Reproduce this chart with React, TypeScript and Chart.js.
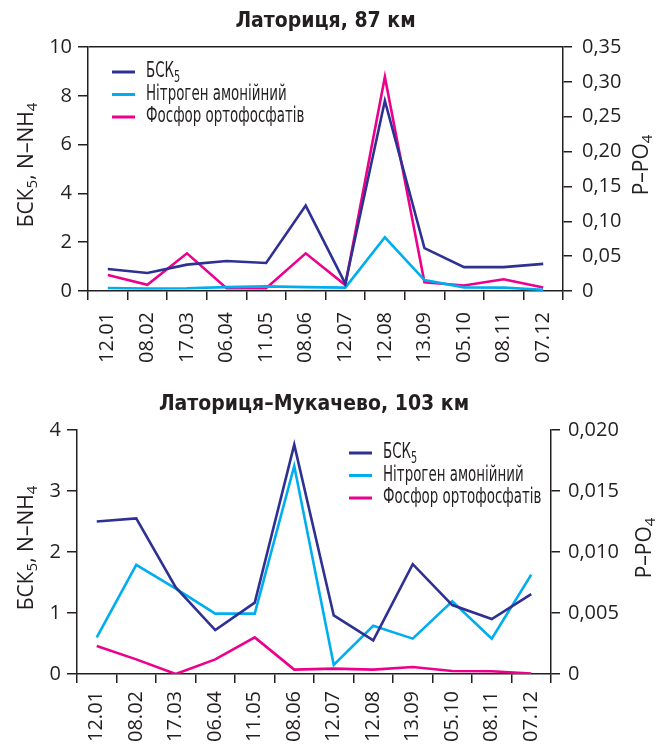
import React, { useEffect, useRef } from 'react';
import { Chart, registerables } from 'chart.js';

Chart.register(...registerables);

// ---------- DATA ----------
const categories = ['12.01', '08.02', '17.03', '06.04', '11.05', '08.06', '12.07', '12.08', '13.09', '05.10', '08.11', '07.12'];

const seriesNames = ['БСК₅', 'Нітроген амонійний', 'Фосфор ортофосфатів'];

// Латориця, 87 км
const bsk87 = [0.9, 0.74, 1.08, 1.23, 1.15, 3.5, 0.3, 7.8, 1.76, 0.98, 0.98, 1.11];
const nh87 = [0.12, 0.1, 0.11, 0.16, 0.19, 0.16, 0.14, 2.2, 0.45, 0.15, 0.14, 0.05];
const po87 = [0.023, 0.009, 0.054, 0.004, 0.004, 0.054, 0.0085, 0.307, 0.0125, 0.0078, 0.0168, 0.005];

// Латориця–Мукачево, 103 км
const bsk103 = [2.5, 2.55, 1.42, 0.72, 1.17, 3.76, 0.96, 0.55, 1.8, 1.13, 0.9, 1.31];
const nh103 = [0.6, 1.79, 1.4, 0.99, 0.99, 3.41, 0.15, 0.79, 0.58, 1.19, 0.58, 1.63];
const po103 = [0.0023, 0.0012, 0, 0.0012, 0.003, 0.00036, 0.00044, 0.00036, 0.00057, 0.00025, 0.00022, 0.00003];

const titles = ['Латориця, 87 км', 'Латориця–Мукачево, 103 км'];

// ---------- STYLE ----------
const COLORS = ['#2e3192', '#00aeef', '#ec008c'];
const INK = '#231f20';
const TICK_FONT = '"Open Sans", "Noto Sans", sans-serif';
const COND_FONT = '"Liberation Sans Narrow", "DejaVu Sans Condensed", Roboto, sans-serif';

type Part = { t: string; sub?: boolean };
const leftTitleParts: Part[] = [{ t: 'БСК' }, { t: '5', sub: true }, { t: ', N–NH' }, { t: '4', sub: true }];
const rightTitleParts: Part[] = [{ t: 'P–PO' }, { t: '4', sub: true }];
const legendParts: Part[][] = [[{ t: 'БСК' }, { t: '5', sub: true }], [{ t: seriesNames[1] }], [{ t: seriesNames[2] }]];

function measureParts(ctx: CanvasRenderingContext2D, parts: Part[], size: number, family: string, cond: number) {
  let w = 0;
  for (const p of parts) {
    ctx.font = `${p.sub ? size * 0.72 : size}px ${family}`;
    w += ctx.measureText(p.t).width * cond;
  }
  return w;
}

function drawParts(ctx: CanvasRenderingContext2D, parts: Part[], x: number, y: number, size: number, family: string, cond = 1) {
  let cx = x;
  for (const p of parts) {
    const s = p.sub ? size * 0.72 : size;
    ctx.font = `${s}px ${family}`;
    ctx.save();
    ctx.translate(cx, y + (p.sub ? size * 0.28 : 0));
    ctx.scale(cond, 1);
    ctx.textAlign = 'left';
    ctx.textBaseline = 'middle';
    ctx.fillText(p.t, 0, 0);
    ctx.restore();
    cx += ctx.measureText(p.t).width * cond;
  }
}

function drawRotated(ctx: CanvasRenderingContext2D, parts: Part[], x: number, y: number, size: number, family: string) {
  const w = measureParts(ctx, parts, size, family, 1);
  ctx.save();
  ctx.translate(x, y);
  ctx.rotate(-Math.PI / 2);
  drawParts(ctx, parts, -w / 2, 0, size, family, 1);
  ctx.restore();
}

const overlayPlugin = {
  id: 'overlay',
  afterDraw(chart: any, _args: any, opts: any) {
    const { ctx, chartArea } = chart;
    ctx.save();
    ctx.fillStyle = INK;
    // title
    ctx.save();
    ctx.font = `bold 21px ${COND_FONT}`;
    ctx.textAlign = 'center';
    ctx.textBaseline = 'middle';
    ctx.translate((chartArea.left + chartArea.right) / 2, opts.titleY);
    ctx.fillText(opts.title, 0, 0);
    ctx.restore();
    // axis titles
    const midY = (chartArea.top + chartArea.bottom) / 2 - 4;
    drawRotated(ctx, leftTitleParts, opts.leftTitleX, midY, 21, TICK_FONT);
    drawRotated(ctx, rightTitleParts, opts.rightTitleX, midY, 21, TICK_FONT);
    // legend
    chart.data.datasets.forEach((ds: any, i: number) => {
      const y = opts.legendY + i * 22.5;
      ctx.strokeStyle = ds.borderColor;
      ctx.lineWidth = 3;
      ctx.beginPath();
      ctx.moveTo(opts.legendX, y);
      ctx.lineTo(opts.legendX + 23, y);
      ctx.stroke();
      ctx.fillStyle = INK;
      drawParts(ctx, legendParts[i], opts.legendX + 34, y, 21, COND_FONT, opts.legendCond);
    });
    ctx.restore();
  },
};

function fmt(dec: number) {
  return (v: any) => (Number(v) === 0 ? '0' : Number(v).toFixed(dec).replace('.', ','));
}

function makeConfig(p: any) {
  const border = { display: true, color: INK, width: 1.5 };
  return {
    type: 'line',
    data: {
      labels: categories,
      datasets: [
        { label: seriesNames[0], data: p.bsk, borderColor: COLORS[0], yAxisID: 'y' },
        { label: seriesNames[1], data: p.nh, borderColor: COLORS[1], yAxisID: 'y' },
        { label: seriesNames[2], data: p.po, borderColor: COLORS[2], yAxisID: 'y1' },
      ].map((d) => ({ ...d, borderWidth: 2.6, pointRadius: 0, tension: 0, fill: false, order: d.yAxisID === 'y1' ? 2 : 1 })),
    },
    options: {
      responsive: false,
      animation: false,
      layout: { padding: { top: p.top, left: 0, right: 0, bottom: 0 } },
      plugins: {
        legend: { display: false },
        title: { display: false },
        tooltip: { enabled: false },
        overlay: p.overlay,
      },
      scales: {
        x: {
          type: 'category',
          offset: true,
          border,
          grid: { offset: true, drawOnChartArea: false, drawTicks: true, tickLength: 9, tickColor: INK, lineWidth: 1.5 },
          ticks: { color: INK, font: { family: TICK_FONT, size: 20 }, maxRotation: 90, minRotation: 90, autoSkip: false, padding: p.xPad },
          afterFit: (s: any) => { s.height = p.xHeight; },
        },
        y: {
          position: 'left',
          min: 0,
          max: p.yMax,
          border,
          grid: {
            drawOnChartArea: p.topLine,
            color: (c: any) => (c.tick && c.tick.value === p.yMax ? INK : 'rgba(0,0,0,0)'),
            tickColor: INK,
            tickLength: 10,
            lineWidth: 1.5,
          },
          ticks: { stepSize: p.yStep, color: INK, font: { family: TICK_FONT, size: 20 }, padding: 6 },
          afterFit: (s: any) => { s.width = p.left; },
        },
        y1: {
          position: 'right',
          min: 0,
          max: p.y1Max,
          border,
          grid: { drawOnChartArea: false, tickColor: INK, tickLength: 9, lineWidth: 1.5 },
          ticks: { stepSize: p.y1Step, color: INK, font: { family: TICK_FONT, size: 20 }, padding: p.y1Pad, callback: fmt(p.y1Dec) },
          afterFit: (s: any) => { s.width = p.right; },
        },
      },
    },
    plugins: [overlayPlugin],
  } as any;
}

function ChartCanvas({ cfg, width, height }: { cfg: any; width: number; height: number }) {
  const ref = useRef<HTMLCanvasElement | null>(null);
  useEffect(() => {
    if (!ref.current) return;
    const chart = new Chart(ref.current, cfg);
    return () => chart.destroy();
  }, [cfg]);
  return <canvas ref={ref} width={width} height={height} style={{ display: 'block', width, height }} />;
}

const cfgTop = makeConfig({
  bsk: bsk87, nh: nh87, po: po87,
  top: 47, left: 88, right: 106, xHeight: 84, xPad: 12,
  yMax: 10, yStep: 2, y1Max: 0.35, y1Step: 0.05, y1Dec: 2, y1Pad: 10,
  topLine: true,
  overlay: { title: titles[0], titleY: 22, leftTitleX: 27, rightTitleX: 642, legendX: 112, legendY: 72, legendCond: 0.71 },
});

const cfgBottom = makeConfig({
  bsk: bsk103, nh: nh103, po: po103,
  top: 55, left: 77, right: 118, xHeight: 72, xPad: 8,
  yMax: 4, yStep: 1, y1Max: 0.02, y1Step: 0.005, y1Dec: 3, y1Pad: 8,
  topLine: false,
  overlay: { title: titles[1], titleY: 30, leftTitleX: 27, rightTitleX: 645, legendX: 349, legendY: 78, legendCond: 0.71 },
});

export default function App() {
  useEffect(() => {
    document.body.style.margin = '0';
  }, []);
  return (
    <div style={{ position: 'absolute', left: 0, top: 0, width: 669, height: 746, background: '#fff' }}>
      <ChartCanvas cfg={cfgTop} width={669} height={375} />
      <ChartCanvas cfg={cfgBottom} width={669} height={371} />
    </div>
  );
}
